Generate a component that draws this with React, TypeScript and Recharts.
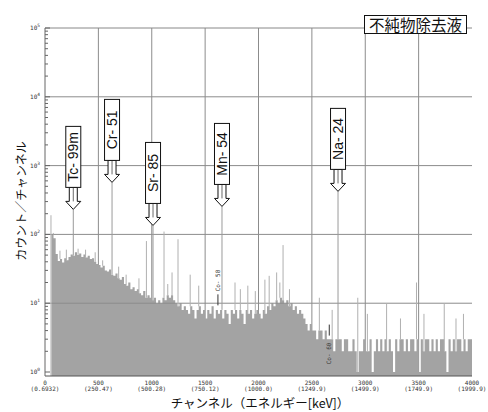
import { ComposedChart, Area, XAxis, YAxis, ReferenceLine, ReferenceDot, CartesianGrid } from "recharts"

const SANS = "'Liberation Sans', Arial, sans-serif"
const JP = "'Noto Sans CJK JP', 'Noto Sans', sans-serif"
const MONO = "'DejaVu Sans Mono', monospace"

const Y_MIN = 0.875
const Y_MAX = 100000

// counts per 20-channel bin
const binWidth = 20
const lowStart = 60
const countsLow = [
  100, 88, 52, 41, 44, 39, 45, 42, 47, 51,
  49, 55, 50, 53, 47, 51, 46, 49, 44, 45,
  40, 37, 36, 33, 35, 30, 29, 31, 26, 25,
  27, 23, 22, 24, 19, 18, 20, 16, 17, 15,
  16, 14, 13, 15, 12, 13, 12, 11, 12, 10,
]
const midStart = 1060
const countsMid = [
  11, 10, 12, 11, 13, 12, 13, 11, 10, 9,
  10, 8, 9, 8, 7, 9, 8, 6, 8, 9,
  7, 8, 6, 8, 7, 9, 6, 8, 7, 8,
  6, 8, 7, 5, 8, 7, 8, 6, 8, 7,
  5, 8, 7, 8, 6, 7, 8, 7, 6, 8,
  7, 9, 8, 10, 9, 11, 10, 12, 11, 10,
  11, 9, 10, 8, 9, 7, 8, 7, 6, 5,
]
const highStart = 2460
const countsHigh = [
  4, 5, 4, 4, 3, 4, 4, 3, 4, 3,
  3, 3, 2, 3, 3, 3, 2, 3, 3, 2,
  2, 3, 2, 1, 2, 2, 3, 2, 2, 3,
  1, 2, 3, 2, 3, 2, 3, 2, 3, 2,
  1, 3, 2, 3, 3, 2, 3, 2, 3, 3,
  2, 3, 1, 3, 2, 3, 3, 2, 3, 2,
  3, 2, 3, 3, 2, 1, 3, 2, 3, 2,
  3, 3, 2, 3, 2, 3, 3,
]

// single-channel spikes above the continuum
const spikeCh = [56, 78, 140, 200, 310, 380, 470, 540, 690, 760, 880, 950, 1115, 1150, 1190, 1246, 1360, 1440, 1780, 1830, 1900, 1970, 2060, 2100, 2170, 2200, 2230, 2290, 2570, 2690, 2930, 3020, 3200, 3330, 3480, 3550, 3740, 3850, 3920]
const spikeCounts = [190, 105, 58, 60, 62, 60, 55, 42, 34, 26, 23, 80, 110, 19, 28, 85, 26, 18, 20, 16, 18, 15, 22, 25, 28, 20, 70, 16, 12, 8, 12, 7, 10, 6, 20, 7, 10, 6, 7]

// labelled nuclide peaks
const nuclides = ["Tc- 99m", "Cr- 51", "Sr- 85", "Mn- 54", "Na- 24"]
const nuclideCh = [265, 628, 1012, 1658, 2745]
const nuclideCounts = [231, 570, 135, 255, 422]

const markerNames = ["Co- 58", "Co- 60"]
const markerCh = [1620, 2663]
const markerCounts = [11, 4]
const markerAbove = [true, false]

const xTicks = [0, 500, 1000, 1500, 2000, 2500, 3000, 3500, 4000]
const energyLabels = ["(0.6932)", "(250.47)", "(500.28)", "(750.12)", "(1000.0)", "(1249.9)", "(1499.9)", "(1749.9)", "(1999.9)"]
const gridX = [500, 1000, 1500, 2000, 2500, 3000, 3500]
const decades = [1, 10, 100, 1000, 10000, 100000]
const gridY = [10, 100, 1000, 10000]
const yTicks = decades.flatMap((d) => (d === Y_MAX ? [d] : [1, 2, 3, 4, 5, 6, 7, 8, 9].map((k) => k * d)))

const spectrum = [
  ...countsLow.map((c, i) => ({ ch: lowStart + i * binWidth, c })),
  ...countsMid.map((c, i) => ({ ch: midStart + i * binWidth, c })),
  ...countsHigh.map((c, i) => ({ ch: highStart + i * binWidth, c })),
]
spectrum.push({ ch: 4000, c: countsHigh[countsHigh.length - 1] })

// continuum level under a channel, so spike lines start on top of the fill
function levelAt(ch: number) {
  let v = Y_MIN
  for (const p of spectrum) {
    if (p.ch <= ch) v = p.c
    else break
  }
  return v
}

function isDecade(v: number) {
  const e = Math.round(Math.log10(v))
  return Math.abs(v - Math.pow(10, e)) < 1e-9
}

function LeftTick({ x, y, payload }: any) {
  const v = payload.value
  const dec = isDecade(v)
  return (
    <g>
      <line x1={x} x2={x + (dec ? 5 : 3)} y1={y} y2={y} stroke="#666" />
      {dec && (
        <text x={x - 5} y={y + 2} textAnchor="end" fontSize={6} fontFamily={MONO} fill="#333">
          10<tspan dy={-3} fontSize={4.5}>{Math.round(Math.log10(v))}</tspan>
        </text>
      )}
    </g>
  )
}

function RightTick({ x, y, payload }: any) {
  const dec = isDecade(payload.value)
  return <line x1={x} x2={x + (dec ? 6 : 4)} y1={y} y2={y} stroke="#777" />
}

function BottomTick({ x, y, payload }: any) {
  const i = xTicks.indexOf(payload.value)
  return (
    <g fontFamily={MONO} fontSize={6} fill="#333">
      <text x={x} y={y + 9}>
        <tspan x={x} textAnchor="middle">{payload.value}</tspan>
      </text>
      <text x={x} y={y + 15} textAnchor="middle">{energyLabels[i]}</text>
    </g>
  )
}

function Callout({ cx, cy, name }: any) {
  const headH = 8
  const shaftH = 14
  const boxH = 61
  const boxBottom = cy - headH - shaftH
  const boxTop = boxBottom - boxH
  const neck = cy - headH
  return (
    <g>
      <path
        d={`M${cx - 4},${boxBottom} L${cx - 4},${neck} L${cx - 7.5},${neck} L${cx},${cy} L${cx + 7.5},${neck} L${cx + 4},${neck} L${cx + 4},${boxBottom} Z`}
        fill="#fff"
        stroke="#111"
        strokeWidth={1}
      />
      <line x1={cx} x2={cx} y1={boxBottom} y2={neck} stroke="#444" strokeWidth={0.8} />
      <rect x={cx - 7.5} y={boxTop} width={15} height={boxH} fill="#fff" stroke="#111" strokeWidth={1} />
      <text
        transform={`translate(${cx + 5},${boxTop + boxH / 2}) rotate(-90)`}
        textAnchor="middle"
        fontSize={14}
        fontFamily={SANS}
        fill="#111"
      >
        {name}
      </text>
    </g>
  )
}

function Marker({ cx, cy, name, above }: any) {
  return (
    <g>
      <line x1={cx} x2={cx} y1={cy - 6} y2={cy + 5} stroke="#333" strokeWidth={1} />
      <text
        transform={`translate(${cx + 2},${above ? cy - 9 : cy + 12}) rotate(-90)`}
        textAnchor={above ? "start" : "end"}
        fontSize={6}
        fontFamily={MONO}
        fill="#333"
      >
        {name}
      </text>
    </g>
  )
}

export default function App() {
  return (
    <div style={{ position: "absolute", left: 0, top: 0, width: 488, height: 412, background: "#fff" }}>
      <ComposedChart width={488} height={412} data={spectrum} margin={{ top: 28, right: 16, bottom: 12, left: 5 }}>
        <CartesianGrid horizontal={false} verticalValues={gridX} stroke="#8c8c8c" strokeDasharray="" />
        <XAxis
          dataKey="ch"
          type="number"
          domain={[0, 4000]}
          allowDataOverflow
          ticks={xTicks}
          interval={0}
          tick={(p: any) => <BottomTick {...p} />}
          tickLine={false}
          tickSize={0}
          tickMargin={0}
          height={24}
          stroke="#555"
        />
        <YAxis
          scale="log"
          type="number"
          domain={[Y_MIN, Y_MAX]}
          allowDataOverflow
          ticks={yTicks}
          interval={0}
          tick={(p: any) => <LeftTick {...p} />}
          tickLine={false}
          tickSize={0}
          tickMargin={0}
          width={40}
          stroke="#666"
        />
        <YAxis
          yAxisId="r"
          orientation="right"
          scale="log"
          type="number"
          domain={[Y_MIN, Y_MAX]}
          allowDataOverflow
          ticks={yTicks}
          interval={0}
          tick={(p: any) => <RightTick {...p} />}
          tickLine={false}
          tickSize={0}
          tickMargin={0}
          width={0}
          stroke="#666"
        />
        <Area
          dataKey="c"
          type="stepAfter"
          baseValue={Y_MIN}
          fill="#a3a3a3"
          fillOpacity={1}
          stroke="none"
          dot={false}
          activeDot={false}
          isAnimationActive={false}
        />
        {gridY.map((v) => (
          <ReferenceLine key={`gy${v}`} y={v} stroke="#8c8c8c" strokeWidth={1} />
        ))}
        <ReferenceLine y={Y_MAX} stroke="#888" strokeWidth={1} />
        {spikeCh.map((ch, i) => (
          <ReferenceLine
            key={`s${ch}`}
            segment={[{ x: ch, y: levelAt(ch) }, { x: ch, y: spikeCounts[i] }]}
            stroke="#b0b0b0"
            strokeWidth={1}
          />
        ))}
        {nuclideCh.map((ch, i) => (
          <ReferenceLine
            key={`p${ch}`}
            segment={[{ x: ch, y: levelAt(ch) }, { x: ch, y: nuclideCounts[i] }]}
            stroke="#9a9a9a"
            strokeWidth={1}
          />
        ))}
        {markerCh.map((ch, i) => (
          <ReferenceDot
            key={`m${ch}`}
            x={ch}
            y={markerCounts[i]}
            r={0}
            ifOverflow="visible"
            shape={(p: any) => <Marker {...p} name={markerNames[i]} above={markerAbove[i]} />}
          />
        ))}
        {nuclideCh.map((ch, i) => (
          <ReferenceDot
            key={`n${ch}`}
            x={ch}
            y={nuclideCounts[i]}
            r={0}
            ifOverflow="visible"
            shape={(p: any) => <Callout {...p} name={nuclides[i]} />}
          />
        ))}
      </ComposedChart>
      <div
        style={{
          position: "absolute",
          left: 364,
          top: 15,
          width: 101,
          height: 17,
          border: "1px solid #111",
          background: "#fff",
          fontFamily: JP,
          fontSize: 15.5,
          lineHeight: "17px",
          textAlign: "center",
          color: "#111",
        }}
      >
        不純物除去液
      </div>
      <div
        style={{
          position: "absolute",
          left: 20,
          top: 201,
          transform: "translate(-50%, -50%) rotate(-90deg)",
          whiteSpace: "nowrap",
          fontFamily: JP,
          fontSize: 12,
          lineHeight: "13px",
          color: "#111",
        }}
      >
        カウント／チャンネル
      </div>
      <div
        style={{
          position: "absolute",
          left: 260,
          top: 402,
          transform: "translate(-50%, -50%)",
          whiteSpace: "nowrap",
          fontFamily: JP,
          fontSize: 12.5,
          lineHeight: "11px",
          color: "#111",
        }}
      >
        チャンネル（エネルギー[keV]）
      </div>
    </div>
  )
}
